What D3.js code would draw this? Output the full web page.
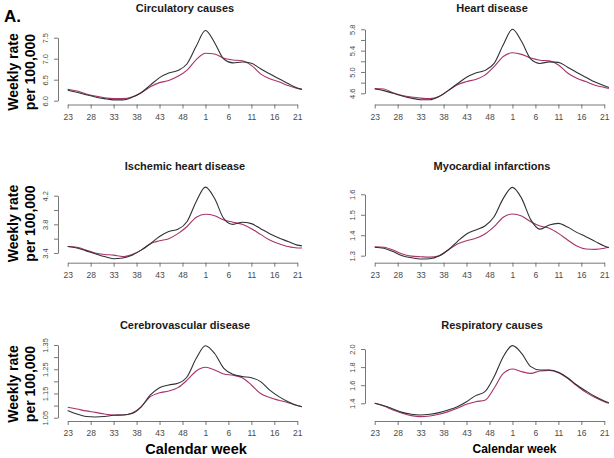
<!DOCTYPE html>
<html><head><meta charset="utf-8">
<script src="https://cdn.jsdelivr.net/npm/d3@7"></script>
<style>
html,body{margin:0;padding:0;background:#fff;}
svg{display:block;font-family:"Liberation Sans",Arial,sans-serif;}
</style></head>
<body>
<svg id="chart" width="614" height="458"></svg>
<script>
// Sampled calendar weeks (season runs week 23 -> week 22)
const weeks = [23,25,27,29,31,33,35,37,39,41,43,45,47,49,51,1,3,5,7,9,11,13,15,17,19,21,22];
const xTickWeeks = [23,28,33,38,43,48,1,6,11,16,21];

const titles = ["Circulatory causes","Heart disease","Ischemic heart disease","Myocardial infarctions","Cerebrovascular disease","Respiratory causes"];

const circBlack = [6.25,6.20,6.14,6.09,6.05,6.02,6.02,6.08,6.19,6.37,6.55,6.66,6.72,6.88,7.30,7.67,7.38,6.99,6.90,6.92,6.89,6.76,6.64,6.52,6.41,6.30,6.27];
const circRed   = [6.27,6.23,6.16,6.11,6.07,6.05,6.05,6.09,6.19,6.33,6.43,6.48,6.58,6.73,6.98,7.13,7.11,7.01,6.97,6.95,6.84,6.64,6.52,6.45,6.36,6.29,6.27];

const heartBlack = [4.68,4.65,4.60,4.55,4.51,4.48,4.48,4.54,4.65,4.78,4.90,4.98,5.03,5.16,5.51,5.80,5.57,5.24,5.16,5.19,5.18,5.09,4.99,4.90,4.81,4.74,4.71];
const heartRed   = [4.69,4.68,4.61,4.56,4.53,4.51,4.50,4.54,4.65,4.76,4.82,4.86,4.94,5.10,5.29,5.36,5.33,5.26,5.22,5.21,5.13,4.98,4.88,4.82,4.75,4.71,4.69];

const ihdBlack = [3.49,3.47,3.43,3.39,3.35,3.32,3.33,3.37,3.44,3.53,3.63,3.70,3.73,3.84,4.12,4.32,4.16,3.88,3.80,3.83,3.81,3.74,3.67,3.61,3.56,3.51,3.50];
const ihdRed   = [3.49,3.48,3.44,3.40,3.38,3.37,3.35,3.38,3.44,3.53,3.57,3.60,3.67,3.77,3.90,3.94,3.92,3.86,3.83,3.80,3.74,3.66,3.58,3.53,3.49,3.47,3.47];

const miBlack = [1.341,1.336,1.320,1.300,1.290,1.284,1.285,1.298,1.328,1.369,1.406,1.426,1.445,1.490,1.580,1.634,1.580,1.475,1.430,1.450,1.458,1.440,1.414,1.393,1.370,1.347,1.339];
const miRed   = [1.344,1.341,1.328,1.308,1.298,1.295,1.293,1.300,1.328,1.357,1.373,1.385,1.406,1.442,1.488,1.504,1.494,1.466,1.445,1.434,1.409,1.377,1.347,1.333,1.331,1.336,1.341];

const cvdBlack = [1.080,1.065,1.055,1.053,1.055,1.060,1.061,1.067,1.095,1.144,1.174,1.185,1.192,1.219,1.295,1.347,1.315,1.254,1.229,1.220,1.215,1.199,1.164,1.137,1.116,1.100,1.095];
const cvdRed   = [1.093,1.086,1.078,1.072,1.065,1.061,1.061,1.069,1.095,1.137,1.153,1.160,1.174,1.205,1.243,1.258,1.247,1.230,1.225,1.215,1.185,1.150,1.133,1.122,1.112,1.100,1.095];

const respBlack = [1.400,1.374,1.337,1.300,1.279,1.271,1.279,1.297,1.326,1.363,1.418,1.485,1.529,1.694,1.915,2.037,1.952,1.805,1.768,1.768,1.742,1.683,1.602,1.536,1.474,1.426,1.407];
const respRed   = [1.400,1.370,1.326,1.290,1.264,1.253,1.260,1.279,1.308,1.345,1.389,1.418,1.433,1.566,1.731,1.779,1.750,1.731,1.757,1.764,1.739,1.676,1.595,1.521,1.463,1.418,1.400];

const yTicks = [
  [6.0,6.5,7.0,7.5],
  [4.6,4.8,5.0,5.2,5.4,5.6,5.8],
  [3.4,3.6,3.8,4.0,4.2],
  [1.3,1.4,1.5,1.6],
  [1.05,1.10,1.15,1.20,1.25,1.30,1.35],
  [1.4,1.6,1.8,2.0]
];
const yLabels = [
  ["6.0","6.5","7.0","7.5"],
  ["4.6","","5.0","","5.4","","5.8"],
  ["3.4","","3.8","","4.2"],
  ["1.3","1.4","1.5","1.6"],
  ["1.05","","1.15","","1.25","","1.35"],
  ["1.4","1.6","1.8","2.0"]
];
const blackSeries = [circBlack, heartBlack, ihdBlack, miBlack, cvdBlack, respBlack];
const redSeries   = [circRed, heartRed, ihdRed, miRed, cvdRed, respRed];

// ---- layout ----
const colX = [[67.7,297.3],[374.7,604.3]];
const colYAxisX = [58, 365];
const rowAxisY = [104.5, 262.7, 421];
const yPix = [[100.7,37.7],[93.3,29.3],[253,195.7],[255.7,194.3],[417.7,345],[403.3,349]];
const titleY = [8, 166, 325];
const titleX = [185, 492];

const weekIndex = w => (w >= 23 ? w - 23 : w + 29);

const svg = d3.select("#chart");
svg.append("rect").attr("width",614).attr("height",458).attr("fill","#fff");

const BLACK = "#2f3133", RED = "#a8336a", AXIS = "#555", TICKTXT = "#4a4a4a";

titles.forEach((t, p) => {
  const col = p % 2, row = Math.floor(p / 2);
  const x = d3.scaleLinear().domain([0, 50]).range(colX[col]);
  const yt = yTicks[p];
  const y = d3.scaleLinear().domain([yt[0], yt[yt.length-1]]).range(yPix[p]);
  const g = svg.append("g");

  // x axis
  const xa = g.append("g").attr("transform", `translate(0,${rowAxisY[row]})`)
    .call(d3.axisBottom(x).tickValues(xTickWeeks.map(weekIndex))
      .tickFormat((d,i) => xTickWeeks[i]).tickSize(4).tickSizeOuter(0).tickPadding(5));
  xa.selectAll("path,line").attr("stroke", AXIS).attr("stroke-width", 0.8);
  xa.selectAll("text").attr("fill", TICKTXT).style("font-size","8.5px").style("font-family","'Liberation Sans',Arial,sans-serif");

  // y axis
  const ya = g.append("g").attr("transform", `translate(${colYAxisX[col]},0)`)
    .call(d3.axisLeft(y).tickValues(yt).tickFormat((d,i) => yLabels[p][i]).tickSize(4).tickSizeOuter(0));
  ya.selectAll("path,line").attr("stroke", AXIS).attr("stroke-width", 0.8);
  ya.selectAll("text").attr("fill", TICKTXT).style("font-size","7.5px").style("font-family","'Liberation Sans',Arial,sans-serif")
    .attr("x", null).attr("dy", "0.35em").attr("text-anchor","middle")
    .attr("transform","translate(-13,0) rotate(-90)");

  // lines
  const line = d3.line().x((d,i) => x(weekIndex(weeks[i]))).y(d => y(d)).curve(d3.curveMonotoneX);
  g.append("path").datum(redSeries[p]).attr("d", line).attr("fill","none").attr("stroke",RED).attr("stroke-width",1.1);
  g.append("path").datum(blackSeries[p]).attr("d", line).attr("fill","none").attr("stroke",BLACK).attr("stroke-width",1.1);

  // title
  svg.append("text").attr("x", titleX[col]).attr("y", titleY[row]).attr("text-anchor","middle")
    .attr("dominant-baseline","central").style("font-size","11px").style("font-weight","bold").attr("fill","#1a1a1a").text(t);
});

// Y axis titles (left column)
const yTitleCY = [72, 223.5, 384];
yTitleCY.forEach(cy => {
  [["Weekly rate",13],["per 100,000",29.5]].forEach(([s,cx]) => {
    svg.append("text").attr("transform",`translate(${cx},${cy}) rotate(-90)`).attr("text-anchor","middle")
      .attr("dominant-baseline","central").style("font-size","14px").style("font-weight","bold").attr("fill","#000").text(s);
  });
});

// X axis titles (bottom row)
svg.append("text").attr("x",196).attr("y",449).attr("text-anchor","middle").attr("dominant-baseline","central")
  .style("font-size","14.5px").style("font-weight","bold").attr("fill","#000").text("Calendar week");
svg.append("text").attr("x",514.5).attr("y",449).attr("text-anchor","middle").attr("dominant-baseline","central")
  .style("font-size","12px").style("font-weight","bold").attr("fill","#000").text("Calendar week");

// Panel letter
svg.append("text").attr("x",4).attr("y",22).style("font-size","17px").style("font-weight","bold").attr("fill","#000").text("A.");
</script>
</body></html>
